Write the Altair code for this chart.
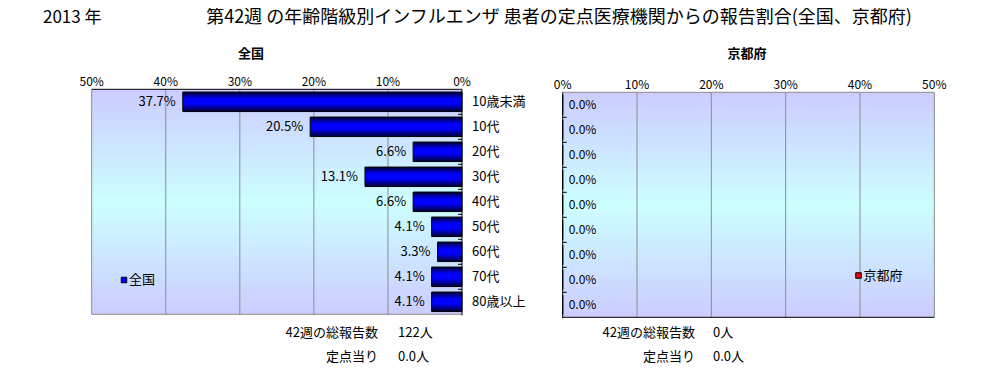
import altair as alt
import pandas as pd

# ---------------- data ----------------
categories = ["10歳未満", "10代", "20代", "30代", "40代", "50代", "60代", "70代", "80歳以上"]
national = [37.7, 20.5, 6.6, 13.1, 6.6, 4.1, 3.3, 4.1, 4.1]
kyoto = [0.0, 0.0, 0.0, 0.0, 0.0, 0.0, 0.0, 0.0, 0.0]
ticks = [0, 10, 20, 30, 40, 50]
grid_ticks = [10, 20, 30, 40, 50]

year_label = "2013 年"
title_text = "第42週 の年齢階級別インフルエンザ 患者の定点医療機関からの報告割合(全国、京都府)"
panel_titles = ["全国", "京都府"]
summary_labels = ["42週の総報告数", "定点当り"]
national_summary = ["122人", "0.0人"]
kyoto_summary = ["0人", "0.0人"]

FONT = "Noto Sans CJK JP"
OX, OY = 8, 16  # page offset of the view origin


def X(p):
    return p - OX


def Y(p):
    return p - OY


bg_grad = alt.Gradient(
    gradient="linear", x1=0, y1=0, x2=0, y2=1,
    stops=[alt.GradientStop(color="#ccccff", offset=0),
           alt.GradientStop(color="#ccffff", offset=0.5),
           alt.GradientStop(color="#ccccff", offset=1)])
bar_grad = alt.Gradient(
    gradient="linear", x1=0, y1=0, x2=0, y2=1,
    stops=[alt.GradientStop(color="#000030", offset=0),
           alt.GradientStop(color="#0000ff", offset=0.35),
           alt.GradientStop(color="#0000ff", offset=0.6),
           alt.GradientStop(color="#000030", offset=1)])

one = pd.DataFrame({"a": [0]})
df_tick = pd.DataFrame({"t": ticks})
df_grid = pd.DataFrame({"t": grid_ticks})


def panel(values, x_rng, top, bottom, left_side, legend_xy, legend_color, name, title_x, axis_dark_top):
    xs = alt.Scale(domain=[0, 50], range=x_rng)
    ys = alt.Scale(domain=categories, range=[Y(top), Y(bottom)], paddingInner=0, paddingOuter=0)
    df = pd.DataFrame({"cat": categories, "val": values})
    zero_px = x_rng[0]

    bg = alt.Chart(one).mark_rect(fill=bg_grad).encode(
        x=alt.X(datum=0, scale=xs, axis=None), x2=alt.X2(datum=50),
        y=alt.value(Y(top)), y2=alt.value(Y(bottom)))
    grid = alt.Chart(df_grid).mark_rule(color="#8c8c8c", strokeWidth=1).encode(
        x=alt.X("t:Q", scale=xs, axis=None), y=alt.value(Y(top)), y2=alt.value(Y(bottom)))
    top_line = alt.Chart(one).mark_rule(color="black" if axis_dark_top else "#8c8c8c").encode(
        x=alt.X(datum=0, scale=xs, axis=None), x2=alt.X2(datum=50), y=alt.value(Y(top)))
    bottom_line = alt.Chart(one).mark_rule(color="#8c8c8c" if axis_dark_top else "black").encode(
        x=alt.X(datum=0, scale=xs, axis=None), x2=alt.X2(datum=50), y=alt.value(Y(bottom)))
    axis_line = alt.Chart(one).mark_rule(color="black").encode(
        x=alt.X(datum=0, scale=xs, axis=None), y=alt.value(Y(top)), y2=alt.value(Y(bottom) + 1))
    tdir = -4 if left_side else 4
    band_ticks = alt.Chart(df.iloc[1:]).mark_rule(color="black").encode(
        y=alt.Y("cat:N", scale=ys, axis=None, bandPosition=0),
        x=alt.value(zero_px), x2=alt.value(zero_px + tdir))
    bars = alt.Chart(df).mark_bar(fill=bar_grad, stroke="black", strokeWidth=1, size=19.5).encode(
        x=alt.X("val:Q", scale=xs, axis=None),
        x2=alt.X2(datum=0),
        y=alt.Y("cat:N", scale=ys, axis=None))
    vlabels = alt.Chart(df).transform_calculate(
        lbl="format(datum.val, '.1f') + '%'"
    ).mark_text(align="right" if left_side else "left", dx=-7 if left_side else 6,
                fontSize=13 if left_side else 12, font=FONT, color="black").encode(
        x=alt.X("val:Q", scale=xs, axis=None),
        y=alt.Y("cat:N", scale=ys, axis=None),
        text="lbl:N")
    xlabels = alt.Chart(df_tick).transform_calculate(
        lbl="datum.t + '%'"
    ).mark_text(fontSize=12, font=FONT, color="black", baseline="middle").encode(
        x=alt.X("t:Q", scale=xs, axis=None), y=alt.value(Y(top - 7.5)), text="lbl:N")
    ptitle = alt.Chart(one).mark_text(fontSize=13, font=FONT, fontWeight="bold", color="black").encode(
        x=alt.value(X(title_x)), y=alt.value(Y(54)), text=alt.value(name))
    leg_mark = alt.Chart(one).mark_square(size=30, fill=legend_color, stroke="black",
                                          strokeWidth=1, opacity=1).encode(
        x=alt.value(X(legend_xy[0])), y=alt.value(Y(legend_xy[1])))
    leg_text = alt.Chart(one).mark_text(align="left", fontSize=13, font=FONT, color="black").encode(
        x=alt.value(X(legend_xy[0] + 5)), y=alt.value(Y(legend_xy[1])), text=alt.value(name))
    layers = [bg, grid, top_line, bottom_line, bars, axis_line, band_ticks, vlabels, xlabels,
              ptitle, leg_mark, leg_text]
    if left_side:
        clabels = alt.Chart(df).mark_text(align="left", fontSize=13, font=FONT, color="black").encode(
            x=alt.value(X(472)), y=alt.Y("cat:N", scale=ys, axis=None), text="cat:N")
        layers.append(clabels)
    return alt.layer(*layers)


left = panel(national, [X(462), X(91.7)], 89.3, 314.3, True, (124, 280), "#0000ff",
             panel_titles[0], 251, True)
right = panel(kyoto, [X(562.7), X(934.3)], 92.3, 317.3, False, (858.5, 275.5), "#ff0000",
              panel_titles[1], 747, False)


def txt(s, x, y, align="left", size=13):
    return alt.Chart(one).mark_text(align=align, fontSize=size, font=FONT, color="black").encode(
        x=alt.value(X(x)), y=alt.value(Y(y)), text=alt.value(s))


texts = [
    txt(year_label, 43, 17.5, size=17),
    txt(title_text, 559, 17.5, align="center", size=18),
    txt(summary_labels[0], 378, 333, align="right"),
    txt(summary_labels[1], 378, 357, align="right"),
    txt(national_summary[0], 398, 333),
    txt(national_summary[1], 398, 357),
    txt(summary_labels[0], 695, 333, align="right"),
    txt(summary_labels[1], 695, 357, align="right"),
    txt(kyoto_summary[0], 713, 333),
    txt(kyoto_summary[1], 713, 357),
]

chart = alt.layer(left, right, *texts).resolve_scale(x="independent", y="independent").properties(
    width=980, height=358,
    autosize=alt.AutoSizeParams(type="none"),
    padding={"left": 0, "top": 8, "right": 0, "bottom": 0},
).configure_view(stroke=None)

chart.save("out.html", embed_options={"renderer": "svg", "actions": False})
